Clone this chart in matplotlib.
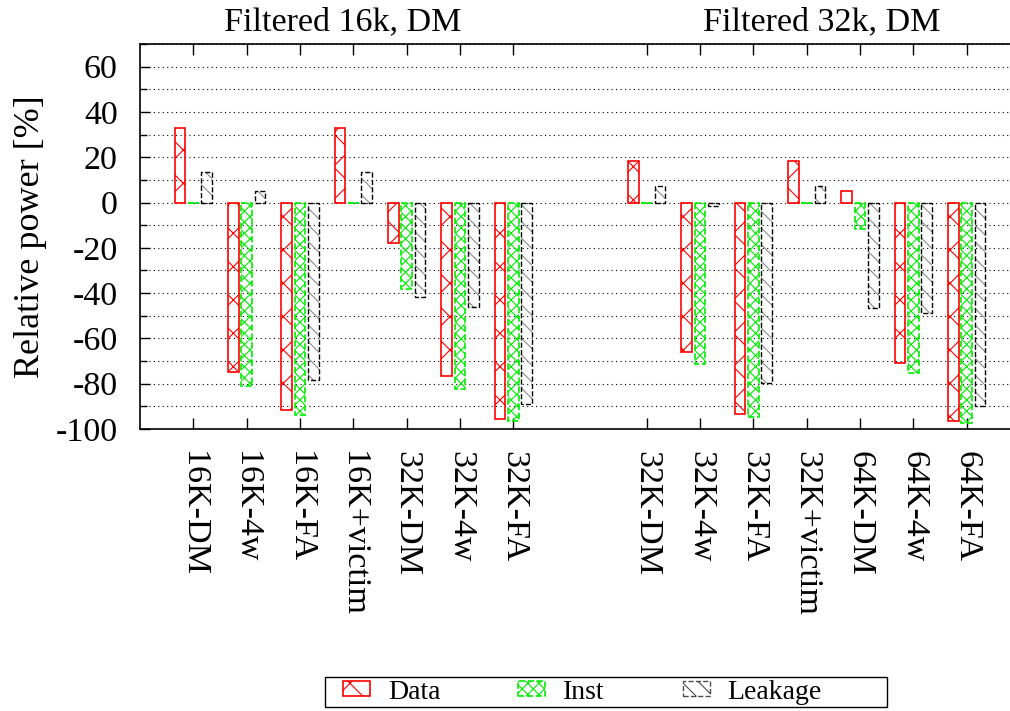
import numpy as np
import matplotlib
matplotlib.use('Agg')
import matplotlib.pyplot as plt
from matplotlib.patches import Patch, Rectangle
from matplotlib.ticker import MultipleLocator

plt.rcParams['font.family'] = ['Liberation Serif', 'DejaVu Serif']
plt.rcParams['hatch.linewidth'] = 0.8
plt.rcParams['axes.unicode_minus'] = False

# categories (two groups)
cats_16k = ['16K-DM', '16K-4w', '16K-FA', '16K+victim', '32K-DM', '32K-4w', '32K-FA']
cats_32k = ['32K-DM', '32K-4w', '32K-FA', '32K+victim', '64K-DM', '64K-4w', '64K-FA']

# relative power [%]
data_16k = [32.7, -74.7, -91.4, 32.7, -18.0, -76.4, -95.5]
inst_16k = [0.0, -81.1, -93.6, 0.0, -38.0, -82.2, -96.5]
leak_16k = [13.6, 5.2, -78.4, 13.6, -41.6, -46.0, -88.9]

data_32k = [18.4, -66.0, -93.3, 18.4, 4.9, -70.8, -96.5]
inst_32k = [0.0, -71.2, -94.6, 0.0, -11.5, -75.2, -97.3]
leak_32k = [7.4, -1.5, -79.9, 7.4, -46.4, -48.6, -89.9]

group_titles = ['Filtered 16k, DM', 'Filtered 32k, DM']

labels = cats_16k + cats_32k
data = np.array(data_16k + data_32k)
inst = np.array(inst_16k + inst_32k)
leak = np.array(leak_16k + leak_32k)

# second group starts after a gap
pos = np.concatenate([np.arange(len(cats_16k)), np.arange(len(cats_32k)) + len(cats_16k) + 1.5])

fig = plt.figure(figsize=(10.1, 7.11), dpi=100)
ax = fig.add_axes([140 / 1010, 1 - 429 / 711, 870 / 1010, 385 / 711])

w = 0.2
off = 0.25

# Data
ax.bar(pos - off, data, w, facecolor='none', edgecolor='red', hatch='x', linewidth=1.2, zorder=3)
# Inst
ax.bar(pos, inst, w, facecolor='none', edgecolor='#00ee00', hatch='xxx', linewidth=1.2,
       linestyle='--', zorder=3)
# Leakage: grey hatch plus dashed black outline
ax.bar(pos + off, leak, w, facecolor='none', edgecolor='0.55', hatch='\\\\', linewidth=0, zorder=3)
ax.bar(pos + off, leak, w, facecolor='none', edgecolor='black', linewidth=1.0, linestyle='--', zorder=3)

ax.set_xlim(-1, 15.31)
ax.set_ylim(-100, 70)
ax.set_xticks(pos)
ax.set_xticklabels(labels, rotation=-90, fontsize=24.5, va='top', ha='center')
ax.yaxis.set_minor_locator(MultipleLocator(10))
ax.set_yticks(np.arange(-100, 61, 20))
ax.tick_params(axis='y', which='both', direction='in', length=7, width=1, labelsize=24.5, pad=16)
ax.tick_params(axis='y', which='minor', length=5)
ax.tick_params(axis='x', direction='in', length=8, width=1, top=True, pad=16)
ax.grid(axis='y', which='both', color='black', linestyle=(0, (1, 3)), linewidth=0.8, zorder=0)
ax.set_axisbelow(True)
ax.spines['right'].set_visible(False)
for s in ['left', 'top', 'bottom']:
    ax.spines[s].set_linewidth(1.2)

ax.set_ylabel('Relative power [%]', fontsize=26)
ax.yaxis.set_label_coords(-0.107, 0.5)

ax.text(2.8, 1.057, group_titles[0], transform=ax.get_xaxis_transform(), ha='center', va='center', fontsize=24.5)
ax.text(11.78, 1.057, group_titles[1], transform=ax.get_xaxis_transform(), ha='center', va='center', fontsize=24.5)

handles = [
    Patch(facecolor='none', edgecolor='red', hatch='x', linewidth=1.2),
    Patch(facecolor='none', edgecolor='#00ee00', hatch='xxx', linewidth=1.2, linestyle='--'),
    Patch(facecolor='none', edgecolor='0.3', hatch='\\\\', linewidth=1.0, linestyle='--'),
]
leg = fig.legend(handles, ['Data', 'Inst', 'Leakage'], loc='center left', bbox_to_anchor=(343 / 1010, 0.0267),
                 ncol=3, fontsize=20, frameon=False, borderpad=0, borderaxespad=0,
                 handlelength=0.97, handleheight=0.45, columnspacing=2.8,
                 handletextpad=0.65)

# legend box as in the original
fig.patches.append(Rectangle((325 / 1010, 1 - 707 / 711), 562 / 1010, 30 / 711,
                             transform=fig.transFigure, fill=False, edgecolor='black', linewidth=1.0))

fig.savefig('out.png', dpi=100)
